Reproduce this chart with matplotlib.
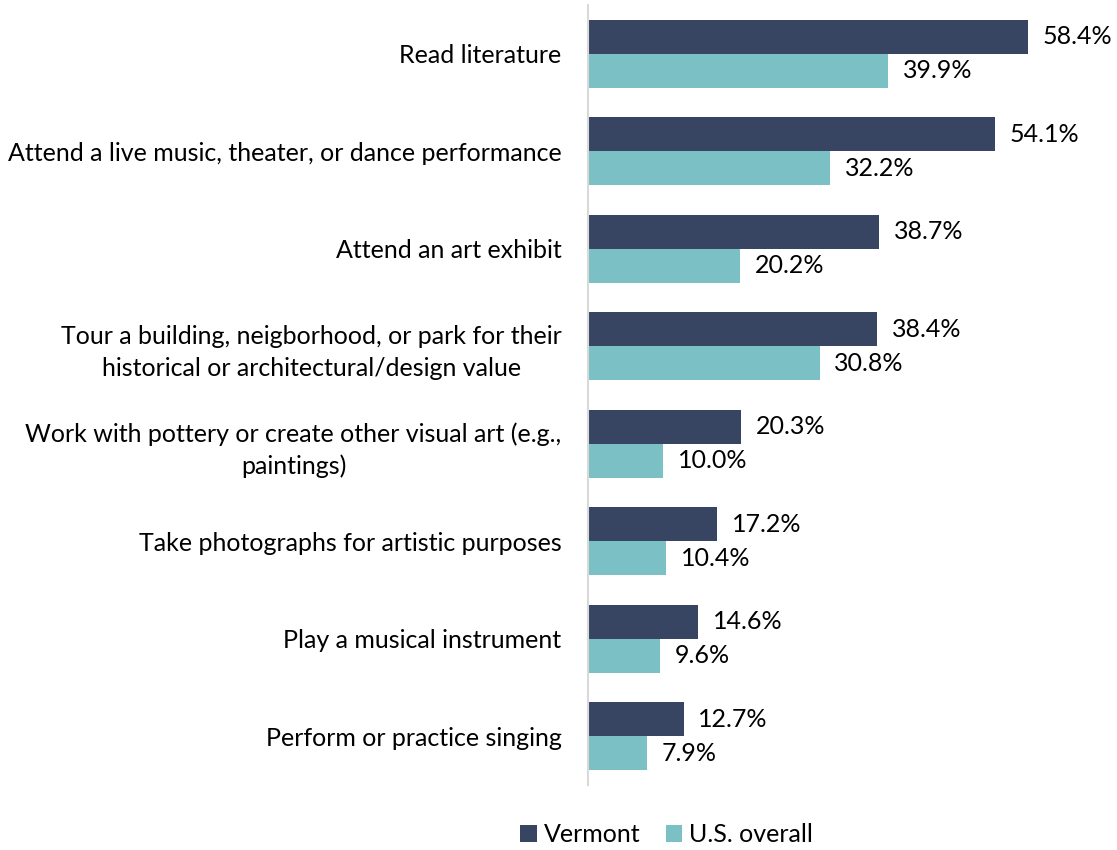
import matplotlib
matplotlib.use("Agg")
import matplotlib.pyplot as plt
import numpy as np
from matplotlib.patches import Patch

plt.rcParams['font.family'] = ['Lato', 'DejaVu Sans']

categories = [
    "Read literature",
    "Attend a live music, theater, or dance performance",
    "Attend an art exhibit",
    "Tour a building, neigborhood, or park for their\nhistorical or architectural/design value",
    "Work with pottery or create other visual art (e.g.,\npaintings)",
    "Take photographs for artistic purposes",
    "Play a musical instrument",
    "Perform or practice singing",
]
vermont = [58.4, 54.1, 38.7, 38.4, 20.3, 17.2, 14.6, 12.7]
us_overall = [39.9, 32.2, 20.2, 30.8, 10.0, 10.4, 9.6, 7.9]
series_names = ["Vermont", "U.S. overall"]
colors = ["#374563", "#7BC0C5"]

FS = 18

fig = plt.figure(figsize=(11.17, 8.5), dpi=100)
ax = fig.add_axes([0.5264, 0.0765, 0.4718, 0.9175])

y = np.arange(len(categories))
h = 0.35
b1 = ax.barh(y - h / 2, vermont, height=h, color=colors[0])
b2 = ax.barh(y + h / 2, us_overall, height=h, color=colors[1])

for bars, vals in ((b1, vermont), (b2, us_overall)):
    for bar, v in zip(bars, vals):
        ax.annotate(f"{v:.1f}%", (bar.get_width(), bar.get_y() + bar.get_height() / 2),
                    xytext=(10.5, 0), textcoords="offset points",
                    ha="left", va="center", fontsize=FS, color="#000000")

ax.set_xlim(0, 70)
ax.set_ylim(len(categories) - 0.5, -0.5)
ax.set_yticks(y)
ax.set_yticklabels(categories, fontsize=FS, multialignment="center", linespacing=1.45)
ax.tick_params(axis="y", length=0, pad=19)
ax.set_xticks([])
for s in ("top", "right", "bottom"):
    ax.spines[s].set_visible(False)
ax.spines["left"].set_color("#D9D9D9")
ax.spines["left"].set_linewidth(1.5)

handles = [Patch(facecolor=c) for c in colors]
fig.legend(handles, series_names, loc="center", bbox_to_anchor=(0.597, 0.018),
           ncol=2, frameon=False, fontsize=FS, handlelength=0.65, handleheight=0.65,
           handletextpad=0.3, columnspacing=1.0)

fig.savefig("out.png", dpi=100)
